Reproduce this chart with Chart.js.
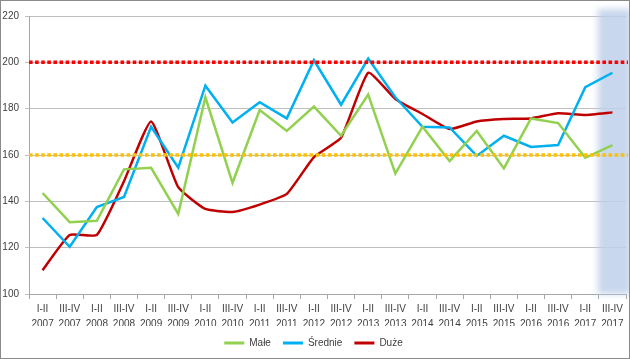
<!DOCTYPE html>
<html>
<head>
<meta charset="utf-8">
<script src="https://cdn.jsdelivr.net/npm/chart.js@4/dist/chart.umd.min.js"></script>
<style>
  html, body { margin: 0; padding: 0; background: #fff; }
  #wrap { width: 630px; height: 359px; box-sizing: border-box; border: 1px solid #8a8a8a; position: relative; }
  #wrap canvas { display: block; }
</style>
</head>
<body>
<div id="wrap"><canvas id="chart" width="628" height="357"></canvas></div>
<script>
// ---------- DATA ----------
const halves = ["I-II", "III-IV"];
const years = [2007, 2008, 2009, 2010, 2011, 2012, 2013, 2014, 2015, 2016, 2017];
const labels = [];
years.forEach(y => halves.forEach(h => labels.push([h, String(y)])));

const male    = [143.6, 131.0, 131.6, 153.8, 154.5, 134.6, 184.9, 148.0, 179.4, 170.4, 180.9,
                 168.3, 186.1, 152.0, 172.2, 157.4, 170.4, 154.2, 175.8, 173.8, 158.8, 164.3];
const srednie = [132.8, 120.4, 137.5, 141.9, 172.2, 154.5, 189.9, 174.0, 182.8, 175.8, 200.9,
                 181.7, 201.6, 184.9, 172.2, 171.9, 159.6, 168.3, 163.5, 164.3, 189.3, 195.5];
const duze    = [110.3, 125.5, 125.5, 148.7, 174.5, 146.1, 136.7, 135.4, 138.6, 143.2, 159.1,
                 167.5, 195.5, 184.2, 177.7, 171.2, 174.5, 175.5, 175.8, 178.0, 177.3, 178.4];

// reference lines
const refValues = [200, 160];
const refColors = ["#ff0000", "#ffc000"];

// highlighted (last) period
const shadeIndex = labels.length - 1;

// ---------- PLUGINS ----------
const shadePlugin = {
  id: "shade",
  beforeDatasetsDraw(chart) {
    const { ctx, chartArea, scales } = chart;
    const x = scales.x;
    const half = (x.getPixelForValue(1) - x.getPixelForValue(0)) / 2;
    const cx = x.getPixelForValue(shadeIndex);
    ctx.save();
    ctx.filter = "blur(3px)";
    ctx.fillStyle = "rgba(190,208,234,0.85)";
    ctx.fillRect(cx - half - 1, chartArea.top - 7, half * 2 + 6, chartArea.bottom - chartArea.top + 7);
    ctx.restore();
  }
};

const refLinePlugin = {
  id: "refLines",
  afterDatasetsDraw(chart) {
    const { ctx, chartArea, scales } = chart;
    ctx.save();
    ctx.lineWidth = 3.5;
    ctx.setLineDash([3.6, 2.5]);
    refValues.forEach((v, i) => {
      const py = scales.y.getPixelForValue(v);
      ctx.strokeStyle = refColors[i];
      ctx.beginPath();
      ctx.moveTo(chartArea.left, py);
      ctx.lineTo(chartArea.right + 2, py);
      ctx.stroke();
    });
    ctx.restore();
  }
};

// ---------- CHART ----------
const font = { family: "'Liberation Sans', Arial, sans-serif", size: 10 };

new Chart(document.getElementById("chart"), {
  type: "line",
  data: {
    labels: labels,
    datasets: [
      { label: "Małe", data: male, borderColor: "#92d050", backgroundColor: "#92d050", borderWidth: 2.5, pointRadius: 0, tension: 0 },
      { label: "Średnie", data: srednie, borderColor: "#00b0f0", backgroundColor: "#00b0f0", borderWidth: 2.5, pointRadius: 0, tension: 0 },
      { label: "Duże", data: duze, borderColor: "#c00000", backgroundColor: "#c00000", borderWidth: 2.5, pointRadius: 0, tension: 0.15 }
    ]
  },
  options: {
    responsive: false,
    animation: false,
    layout: { padding: { top: 15, right: 3, left: 0, bottom: 0 } },
    scales: {
      x: {
        offset: true,
        afterFit: s => { s.height = 32; },
        grid: { offset: true, drawOnChartArea: false, tickLength: 5, color: "#a6a6a6" },
        border: { color: "#a6a6a6" },
        ticks: { font: { ...font, lineHeight: 1.5 }, color: "#404040", maxRotation: 0, autoSkip: false, padding: 3 }
      },
      y: {
        min: 100,
        max: 220,
        afterFit: s => { s.width = 28; },
        grid: { color: "#bfbfbf", tickLength: 4 },
        border: { color: "#a6a6a6" },
        ticks: { stepSize: 20, font: font, color: "#404040", padding: 6 }
      }
    },
    plugins: {
      legend: {
        position: "bottom",
        labels: {
          font: font,
          color: "#404040",
          boxWidth: 20,
          boxHeight: 3,
          padding: 12,
          generateLabels: chart => {
            const items = Chart.defaults.plugins.legend.labels.generateLabels(chart);
            items.forEach(it => { it.lineWidth = 0; it.fillStyle = it.strokeStyle; });
            return items;
          }
        }
      },
      tooltip: { enabled: false }
    }
  },
  plugins: [shadePlugin, refLinePlugin]
});
</script>
</body>
</html>
